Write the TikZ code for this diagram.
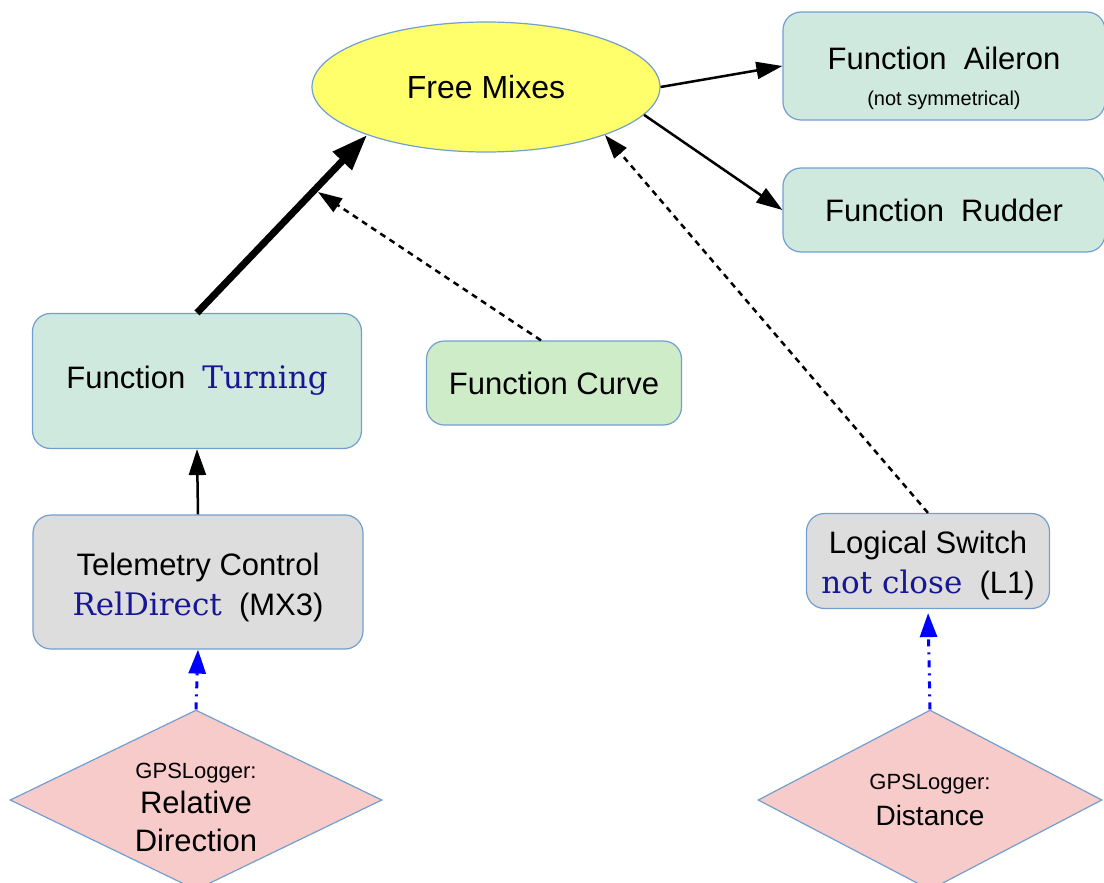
\documentclass[tikz,border=0pt]{standalone}
\usepackage{fontspec}
\setmainfont{Liberation Sans}
\newfontfamily\codefont{DejaVu Serif}
\usepackage{tikz}
\usetikzlibrary{arrows.meta}
\usetikzlibrary{shapes.geometric}
\usetikzlibrary{positioning}

\definecolor{mixyellow}{RGB}{255,255,107}
\definecolor{functeal}{RGB}{207,233,222}
\definecolor{curvegreen}{RGB}{206,236,200}
\definecolor{ctrlgray}{RGB}{221,221,221}
\definecolor{sensorpink}{RGB}{248,203,203}
\definecolor{edgeblue}{RGB}{114,159,207}
\definecolor{codeblue}{RGB}{22,22,150}

\newcommand{\code}[1]{{\codefont\color{codeblue}#1}}

\begin{document}
\begin{tikzpicture}[x=1pt,y=-1pt,
    every node/.style={font=\fontsize{31}{40}\selectfont},
    funcbox/.style={draw=edgeblue,line width=1.2pt,rounded corners=18pt,align=center,inner sep=0pt},
    sensor/.style={diamond,draw=edgeblue,line width=1.2pt,fill=sensorpink,inner sep=-20pt,align=center},
    solidarrow/.style={line width=2.5pt,-{Triangle[length=26pt,width=17pt]}},
    dashedarrow/.style={line width=2.5pt,dash pattern=on 6pt off 5pt,-{Triangle[length=24pt,width=16pt]}},
    linkarrow/.style={blue,line width=3pt,dash pattern=on 7pt off 6pt on 2pt off 6pt,-{Triangle[length=24pt,width=17pt]}}]
          \useasboundingbox (0,0) rectangle (1104,883);

          % mixer and outputs
          \node[ellipse,draw=edgeblue,line width=1.2pt,fill=mixyellow,minimum width=348pt,minimum height=130pt,inner sep=0pt]
            (mixes) at (486,87) {\fontsize{32}{40}\selectfont Free Mixes};
          \node[funcbox,fill=functeal,minimum width=322pt,minimum height=108pt] (aileron) at (944,66)
            {\rule{0pt}{48pt}Function~~Aileron\\[-4pt]{\fontsize{20}{24}\selectfont (not symmetrical)}};
          \node[funcbox,fill=functeal,minimum width=322pt,minimum height=84pt] (rudder) at (944,210) {Function~~Rudder};

          % functions
          \node[funcbox,fill=functeal,minimum width=329pt,minimum height=135pt] (turning) at (197,381)
            {Function~~\code{Turning}};
          \node[funcbox,fill=curvegreen,minimum width=255pt,minimum height=84pt] (curve) at (554,383) {Function Curve};

          % controls
          \node[funcbox,fill=ctrlgray,minimum width=330pt,minimum height=134pt] (telemetry) at (198,582)
            {\rule{0pt}{34pt}Telemetry Control\\\code{RelDirect}~~(MX3)};
          \node[funcbox,fill=ctrlgray,minimum width=243pt,minimum height=95pt] (logical) at (928,561)
            {\rule{0pt}{32pt}Logical Switch\\\code{not close}~~(L1)};

          % sensors
          \node[sensor,minimum width=372pt,minimum height=180pt] (reldir) at (196,800)
            {{\fontsize{22}{26}\selectfont\rule{0pt}{30pt}GPSLogger:}\\[-5pt]Relative\\[-2pt]Direction};
          \node[sensor,minimum width=344pt,minimum height=180pt] (distance) at (930,800)
            {{\fontsize{22}{26}\selectfont GPSLogger:}\\[-4pt]{\fontsize{28}{36}\selectfont Distance}};

          \coordinate (curvetip) at (318,192);

          \draw[line width=7pt,-{Triangle[length=36pt,width=25pt]}] (turning.north) -- (mixes.202);
          \draw[dashedarrow] (curve.north) ++(-13,0) -- (curvetip);
          \draw[dashedarrow] (logical.north) -- (mixes.338);
          \draw[solidarrow] (mixes.east) -- (aileron.west);
          \draw[solidarrow] (mixes.-10) -- (rudder.west);
          \draw[solidarrow] (telemetry.north) -- (turning.south);
          \draw[linkarrow] (reldir.north) -- (telemetry.south);
          \draw[linkarrow,shorten >=4pt] (distance.north) -- (logical.south);
        \end{tikzpicture}
\end{document}
